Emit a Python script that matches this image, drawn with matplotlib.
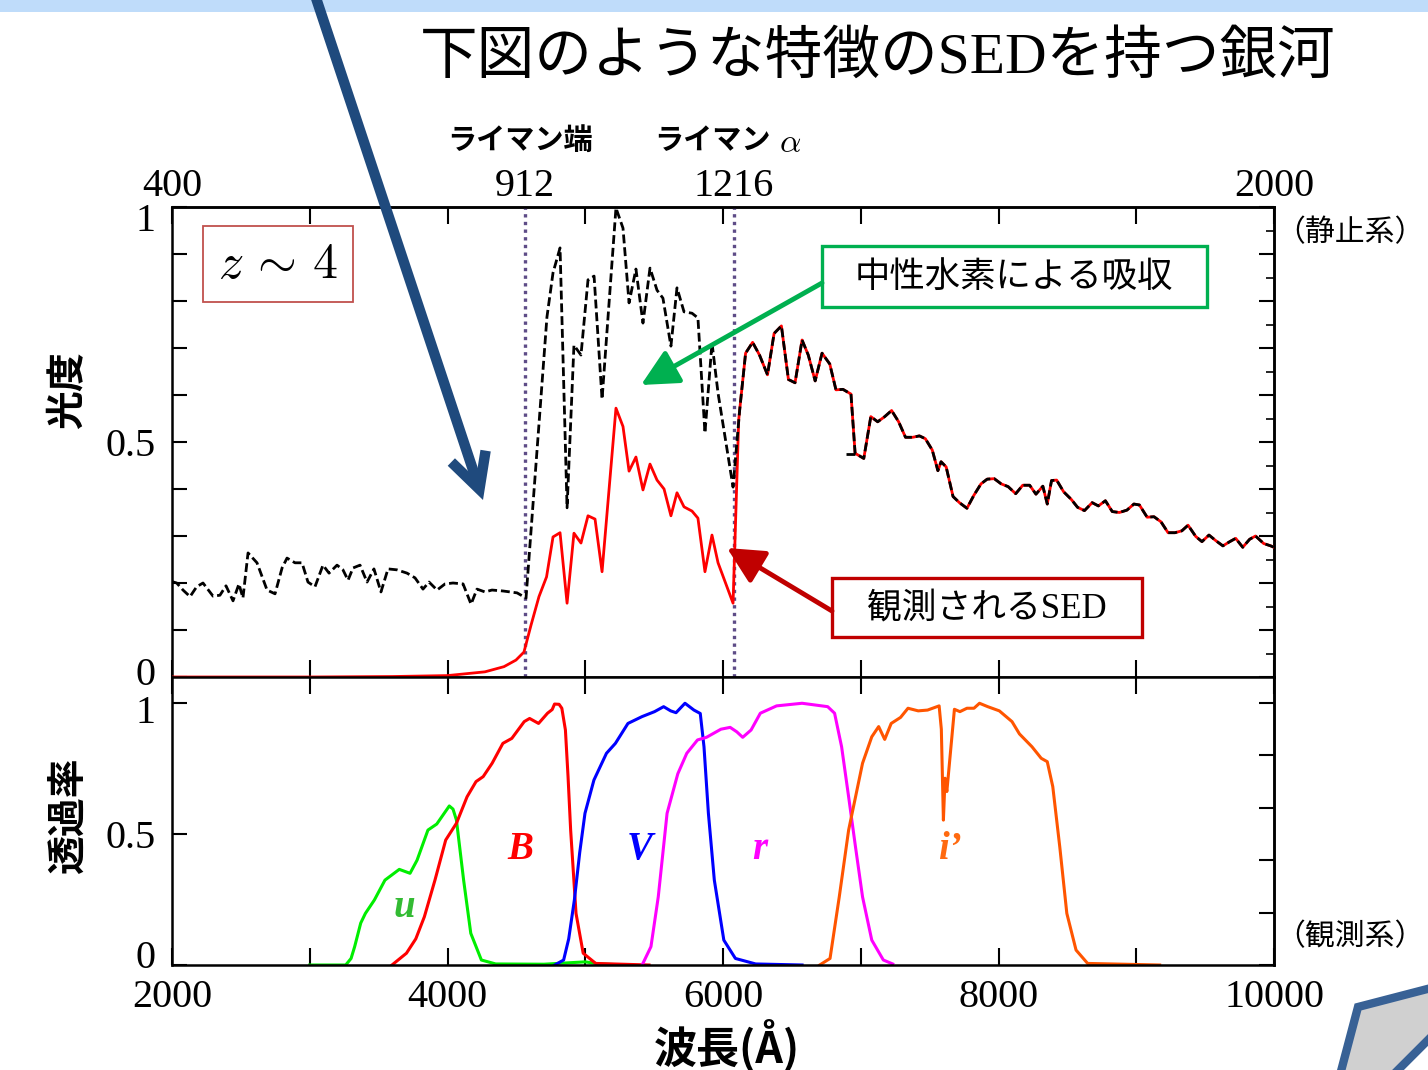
import numpy as np
import matplotlib
matplotlib.use('Agg')
import matplotlib.pyplot as plt
import matplotlib.transforms as mtransforms
from matplotlib.patches import Rectangle, Polygon, FancyArrowPatch
from matplotlib.ticker import MultipleLocator, FixedLocator, NullFormatter

plt.rcParams['font.family'] = ['Liberation Serif', 'Noto Sans CJK JP', 'DejaVu Sans']
plt.rcParams['mathtext.fontset'] = 'cm'

# ---------------- data ----------------
# redshift of the galaxy (rest = observed / (1+z))
z_gal = 4.0

# intrinsic SED (black dashed), observed wavelength [A], shortward of Ly-alpha
intr_wave = [2000, 2034, 2080, 2131, 2179, 2225, 2298, 2348, 2392, 2443, 2486, 2515,
             2552, 2617, 2690, 2748, 2799, 2835, 2893, 2944, 2987, 3038, 3096, 3140,
             3198, 3241, 3278, 3314, 3365, 3416, 3466, 3517, 3568, 3633, 3706, 3764,
             3822, 3866, 3924, 3982, 4040, 4113, 4171, 4214, 4272, 4323, 4403, 4505,
             4570, 4722, 4766, 4817, 4868, 4918, 4969, 5020, 5064, 5122, 5223, 5274,
             5318, 5368, 5419, 5470, 5521, 5564, 5622, 5666, 5717, 5775, 5818, 5869,
             5920, 5964, 6073]
intr_flux = [0.203, 0.200, 0.185, 0.171, 0.192, 0.200, 0.172, 0.174, 0.194, 0.162, 0.198, 0.168,
             0.264, 0.243, 0.185, 0.177, 0.232, 0.253, 0.243, 0.243, 0.202, 0.192, 0.238, 0.221,
             0.238, 0.228, 0.206, 0.232, 0.238, 0.202, 0.230, 0.181, 0.230, 0.228, 0.221, 0.211,
             0.187, 0.202, 0.185, 0.198, 0.200, 0.198, 0.155, 0.187, 0.181, 0.185, 0.183, 0.179,
             0.168, 0.766, 0.860, 0.913, 0.360, 0.706, 0.685, 0.845, 0.853, 0.591, 0.998, 0.955,
             0.796, 0.868, 0.753, 0.870, 0.823, 0.806, 0.704, 0.828, 0.777, 0.774, 0.764, 0.519,
             0.711, 0.604, 0.404]
# small stray piece of the intrinsic curve near 6900 A
stub_wave = [6891, 6959]
stub_flux = [0.474, 0.474]

# observed SED (red solid), shortward of Ly-alpha
obs_wave = [2000, 3000, 3600, 4000, 4272, 4410, 4497, 4555, 4606, 4664, 4719, 4766,
            4817, 4868, 4918, 4969, 5020, 5071, 5122, 5223, 5274, 5318, 5368, 5419,
            5470, 5521, 5572, 5622, 5666, 5717, 5775, 5818, 5869, 5920, 5964, 6073, 6114]
obs_flux = [0.0, 0.0, 0.001, 0.003, 0.011, 0.022, 0.036, 0.053, 0.110, 0.171, 0.213, 0.298,
            0.307, 0.157, 0.306, 0.285, 0.343, 0.336, 0.224, 0.572, 0.533, 0.438, 0.468, 0.398,
            0.453, 0.419, 0.400, 0.343, 0.392, 0.362, 0.353, 0.338, 0.224, 0.302, 0.243, 0.157, 0.547]

# common part (longward of Ly-alpha, no absorption)
cont_wave = [6121, 6164, 6215, 6265, 6323, 6371, 6424, 6475, 6523, 6574, 6619, 6669,
             6719, 6775, 6820, 6871, 6929, 6959, 7022, 7073, 7123, 7174, 7224, 7275,
             7325, 7376, 7426, 7469, 7519, 7560, 7583, 7620, 7670, 7716, 7771, 7822,
             7873, 7918, 7969, 8019, 8070, 8125, 8176, 8226, 8272, 8322, 8354, 8385,
             8422, 8473, 8528, 8574, 8624, 8680, 8725, 8776, 8826, 8877, 8932, 8983,
             9023, 9079, 9129, 9180, 9231, 9281, 9331, 9376, 9432, 9477, 9528, 9578,
             9629, 9679, 9722, 9773, 9823, 9866, 9925, 9976, 10000]
cont_flux = [0.568, 0.689, 0.712, 0.685, 0.643, 0.731, 0.747, 0.633, 0.626, 0.717, 0.685, 0.630,
             0.689, 0.666, 0.611, 0.612, 0.602, 0.476, 0.465, 0.554, 0.543, 0.554, 0.567, 0.543,
             0.510, 0.510, 0.513, 0.507, 0.483, 0.439, 0.458, 0.447, 0.384, 0.371, 0.359, 0.387,
             0.411, 0.421, 0.422, 0.411, 0.405, 0.390, 0.408, 0.408, 0.389, 0.406, 0.368, 0.418,
             0.419, 0.394, 0.378, 0.361, 0.354, 0.371, 0.364, 0.375, 0.352, 0.350, 0.355, 0.368,
             0.366, 0.340, 0.341, 0.330, 0.307, 0.307, 0.311, 0.323, 0.299, 0.288, 0.302, 0.290,
             0.279, 0.288, 0.295, 0.276, 0.293, 0.300, 0.284, 0.279, 0.276]

# filter transmission curves
u_wave = [3000, 3261, 3300, 3326, 3370, 3404, 3469, 3546, 3650, 3728, 3779, 3858, 3922,
          4013, 4040, 4065, 4117, 4169, 4246, 4350, 4700, 5000, 5100, 5300]
u_trans = [0.0, 0.0, 0.025, 0.07, 0.16, 0.197, 0.248, 0.324, 0.365, 0.35, 0.40, 0.515, 0.538,
           0.607, 0.595, 0.553, 0.324, 0.121, 0.019, 0.004, 0.003, 0.012, 0.004, 0.0]

B_wave = [3597, 3702, 3770, 3832, 3909, 3987, 4065, 4142, 4207, 4259, 4324, 4402, 4467,
          4557, 4596, 4661, 4726, 4760, 4777, 4810, 4830, 4856, 4875, 4894, 4933, 4985,
          5076, 5463]
B_trans = [0.0, 0.045, 0.10, 0.184, 0.324, 0.477, 0.541, 0.642, 0.70, 0.719, 0.77, 0.846, 0.865,
           0.929, 0.941, 0.922, 0.961, 0.975, 0.996, 0.995, 0.98, 0.897, 0.72, 0.515, 0.197, 0.045,
           0.006, 0.0]

V_wave = [4778, 4843, 4880, 4921, 4960, 4998, 5063, 5154, 5219, 5310, 5412, 5503, 5569,
          5620, 5659, 5724, 5789, 5835, 5862, 5894, 5937, 6006, 6090, 6237, 6574]
V_trans = [0.0, 0.019, 0.10, 0.248, 0.43, 0.579, 0.706, 0.808, 0.846, 0.922, 0.948, 0.967, 0.986,
           0.97, 0.963, 0.999, 0.973, 0.96, 0.833, 0.579, 0.324, 0.095, 0.025, 0.004, 0.0]

r_wave = [5413, 5477, 5530, 5594, 5672, 5737, 5815, 5880, 5985, 6052, 6100, 6143, 6204,
          6271, 6389, 6574, 6760, 6810, 6861, 6912, 6962, 7013, 7080, 7164, 7232]
r_trans = [0.0, 0.07, 0.26, 0.579, 0.73, 0.808, 0.859, 0.869, 0.90, 0.907, 0.89, 0.869, 0.897,
           0.961, 0.989, 0.999, 0.986, 0.961, 0.833, 0.642, 0.45, 0.26, 0.095, 0.019, 0.004]

i_wave = [6702, 6777, 6844, 6912, 7013, 7080, 7130, 7174, 7221, 7289, 7343, 7417, 7485,
          7569, 7585, 7600, 7612, 7625, 7680, 7720, 7771, 7822, 7862, 7922, 8006, 8098,
          8152, 8243, 8310, 8354, 8394, 8445, 8496, 8563, 8647, 9170]
i_trans = [0.0, 0.025, 0.26, 0.515, 0.77, 0.871, 0.91, 0.861, 0.922, 0.945, 0.98, 0.97, 0.973,
           0.989, 0.90, 0.553, 0.713, 0.662, 0.976, 0.967, 0.98, 0.98, 0.999, 0.986, 0.97, 0.929,
           0.882, 0.833, 0.789, 0.776, 0.681, 0.45, 0.197, 0.057, 0.006, 0.0]

filter_names = ['u', 'B', 'V', 'r', 'i’']
filter_colors = ['#00ee00', '#ff0000', '#0000ff', '#ff00ff', '#ff5500']
label_colors = ['#33bb33', '#ff0000', '#0000ff', '#ff00ff', '#ff6a10']
label_wave = [3684, 4526, 5397, 6268, 7647]
label_trans = [0.218, 0.439, 0.439, 0.439, 0.439]

# rest-frame reference wavelengths
rest_labels = [400, 912, 1216, 2000]
lyman_limit = 912
lyman_alpha = 1216

CJK = ['Noto Sans CJK JP', 'DejaVu Sans']
CJK_SERIF = ['Liberation Serif', 'Noto Sans CJK JP']

# ---------------- figure ----------------
fig = plt.figure(figsize=(14.28, 10.7), dpi=100)
W, H = 1428.0, 1070.0

def px_axes(x0, y0, x1, y1):
    return [x0 / W, 1 - y1 / H, (x1 - x0) / W, (y1 - y0) / H]

def shift_label(lab, dy_pt):
    # move a tick label vertically by dy points
    off = mtransforms.ScaledTranslation(0, dy_pt / 72.0, fig.dpi_scale_trans)
    lab.set_transform(lab.get_transform() + off)

ax1 = fig.add_axes(px_axes(172, 207, 1274, 677))
ax2 = fig.add_axes(px_axes(172, 677, 1274, 965))

# top panel: SED
ax1.plot(obs_wave + cont_wave, obs_flux + cont_flux, color='#ff0000', lw=2.0, zorder=3)
ax1.plot(intr_wave + cont_wave, intr_flux + cont_flux, color='black', lw=2.0,
         ls=(0, (3.2, 1.4)), zorder=4)
ax1.plot(stub_wave, stub_flux, color='black', lw=2.0, ls=(0, (3.2, 1.4)), zorder=4)
for lw_rest in (lyman_limit, lyman_alpha):
    ax1.axvline(lw_rest * (1 + z_gal), color='#5e4c87', lw=2.4, ls=(0, (1, 1.3)), zorder=2)

ax1.set_xlim(2000, 10000)
ax1.set_ylim(0, 1)
ax1.xaxis.set_major_locator(MultipleLocator(1000))
ax1.yaxis.set_major_locator(FixedLocator([0, 0.5, 1]))
ax1.yaxis.set_minor_locator(MultipleLocator(0.1))
ax1.set_yticklabels(['0', '0.5', '1'])
ax1.tick_params(axis='x', which='both', direction='in', top=True, bottom=True,
                labelbottom=False, length=12, width=1.5)
ax1.tick_params(axis='y', which='both', direction='in', left=True, right=False,
                length=11, width=1.5, labelsize=29, pad=12)

sec_r1 = ax1.secondary_yaxis('right')
sec_r1.yaxis.set_major_locator(MultipleLocator(0.1))
sec_r1.yaxis.set_minor_locator(MultipleLocator(0.05))
sec_r1.yaxis.set_major_formatter(NullFormatter())
sec_r1.tick_params(which='major', direction='in', length=11, width=1.5)
sec_r1.tick_params(which='minor', direction='in', length=6, width=1.2)

sec_top = ax1.secondary_xaxis('top', functions=(lambda x: x / (1 + z_gal),
                                                  lambda x: x * (1 + z_gal)))
sec_top.set_xticks(rest_labels)
sec_top.set_xticklabels([str(v) for v in rest_labels])
sec_top.tick_params(length=0, labelsize=29, pad=1.5)

# bottom panel: filters
for w, t, c in zip([u_wave, B_wave, V_wave, r_wave, i_wave],
                   [u_trans, B_trans, V_trans, r_trans, i_trans], filter_colors):
    ax2.plot(w, t, color=c, lw=2.2)
for name, c, lw_, lt in zip(filter_names, label_colors, label_wave, label_trans):
    ax2.text(lw_, lt, name, color=c, fontsize=28, fontweight='bold', fontstyle='italic',
             family='Liberation Serif', ha='center', va='center')

ax2.set_xlim(2000, 10000)
ax2.set_ylim(0, 288 / 262)
ax2.xaxis.set_major_locator(MultipleLocator(2000))
ax2.xaxis.set_minor_locator(MultipleLocator(1000))
ax2.yaxis.set_major_locator(FixedLocator([0, 0.5, 1]))
ax2.set_yticklabels(['0', '0.5', '1'])
ax2.tick_params(axis='x', which='both', direction='in', top=True, bottom=True,
                length=12, width=1.5, labelsize=29, pad=10)
ax2.tick_params(axis='y', which='both', direction='in', left=True, right=False,
                length=11, width=1.5, labelsize=29, pad=12)
sec_r2 = ax2.secondary_yaxis('right')
sec_r2.yaxis.set_major_locator(MultipleLocator(0.2))
sec_r2.yaxis.set_major_formatter(NullFormatter())
sec_r2.tick_params(direction='in', length=11, width=1.5)

# nudge the crowded y tick labels apart (as in the original slide)
t1 = ax1.yaxis.get_major_ticks()
shift_label(t1[0].label1, 4)
shift_label(t1[2].label1, -7)
t2 = ax2.yaxis.get_major_ticks()
shift_label(t2[0].label1, 8)
shift_label(t2[2].label1, -4)

for ax in (ax1, ax2):
    for s in ax.spines.values():
        s.set_linewidth(1.8)
sec_r1.spines['right'].set_linewidth(1.8)
sec_r2.spines['right'].set_linewidth(1.8)
sec_top.spines['top'].set_linewidth(1.8)

# ---------------- decorations (pixel coordinates) ----------------
ov = fig.add_axes([0, 0, 1, 1], zorder=10)
ov.set_xlim(0, W)
ov.set_ylim(H, 0)
ov.axis('off')
ov.patch.set_alpha(0)

ov.add_patch(Rectangle((0, 0), W, 12, color='#bfdcfa', lw=0))
ov.add_patch(Polygon([(1340, 1075), (1358, 1007), (1435, 987), (1435, 1033), (1393, 1075)],
                     closed=True, fc='#d0d0d0', ec='#386195', lw=6, clip_on=True))

ov.add_patch(FancyArrowPatch((315, -5), (483, 500), arrowstyle='->,head_length=1.25,head_width=0.65',
                             mutation_scale=20, color='#1f4a7d', lw=7.5, shrinkA=0, shrinkB=0,
                             joinstyle='miter', capstyle='butt'))

ov.text(878, 58, '下図のような特徴のSEDを持つ銀河', fontsize=41.5, ha='center', va='center',
        family=CJK_SERIF)

ov.add_patch(Rectangle((203, 226), 150, 76, fill=False, ec='#c0504d', lw=1.3))
ov.text(278, 266, r'$z\,{\sim}\,4$', fontsize=36, ha='center', va='center')

ov.add_patch(Rectangle((822, 246), 385, 61, fill=False, ec='#00b050', lw=2.4))
ov.text(1014, 277, '中性水素による吸収', fontsize=25.5, ha='center', va='center', family=CJK)
ov.add_patch(FancyArrowPatch((822, 283), (641, 385), arrowstyle='-|>,head_length=1.6,head_width=0.8',
                             mutation_scale=14, color='#00b050', lw=3.5, shrinkA=0, shrinkB=0))

ov.add_patch(Rectangle((832, 578), 310, 59, fill=False, ec='#c00000', lw=2.4))
ov.text(987, 609, '観測されるSED', fontsize=25, ha='center', va='center', family=CJK_SERIF)
ov.add_patch(FancyArrowPatch((832, 611), (727, 548), arrowstyle='-|>,head_length=1.6,head_width=0.8',
                             mutation_scale=14, color='#c00000', lw=3.5, shrinkA=0, shrinkB=0))

ov.text(520, 140, 'ライマン端', fontsize=21, fontweight='bold', ha='center', va='center', family=CJK)
ov.text(712, 140, 'ライマン', fontsize=21, fontweight='bold', ha='center', va='center', family=CJK)
ov.text(790, 144, r'$\alpha$', fontsize=24, ha='center', va='center')

ov.text(1425, 233, '（静止系）', fontsize=21.5, ha='right', va='center', family=CJK)
ov.text(1425, 937, '（観測系）', fontsize=21.5, ha='right', va='center', family=CJK)

ov.text(68, 390, '光度', fontsize=28, fontweight='bold', rotation=90, ha='center', va='center',
        family=CJK)
ov.text(68, 815, '透過率', fontsize=28, fontweight='bold', rotation=90, ha='center', va='center',
        family=CJK)
ov.text(727, 1045, '波長(Å)', fontsize=31, fontweight='bold', ha='center', va='center',
        family=CJK)

fig.savefig('out.png', dpi=100)
